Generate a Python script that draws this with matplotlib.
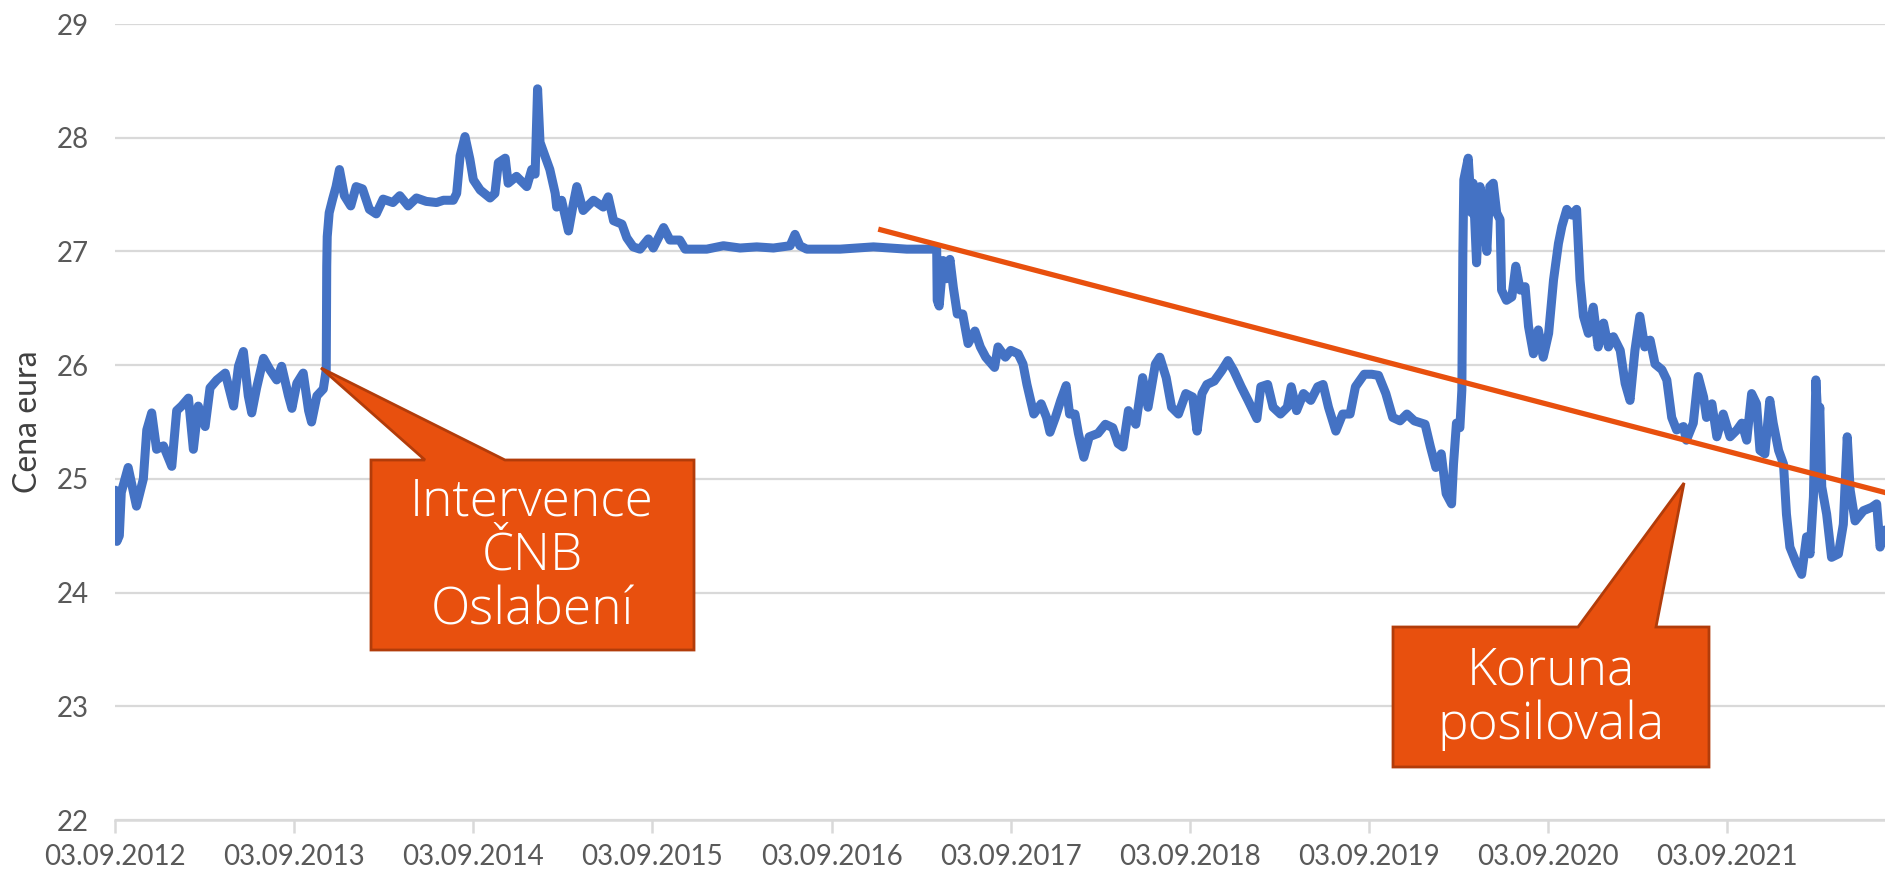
import pandas as pd
import matplotlib
matplotlib.use("Agg")
import matplotlib.pyplot as plt
from matplotlib.patches import Polygon

# kurz EUR/CZK, x = dny od 03.09.2012
start = pd.Timestamp("2012-09-03")

days_a = [0, 3, 8, 12, 26, 43, 57, 64, 74, 84, 98, 115, 125, 135, 149, 159, 169, 183, 193, 207,
          224, 241, 251, 261, 271, 278, 288, 302, 315, 329, 339, 353, 360, 370, 383, 394, 400,
          411, 424, 430]
rate_a = [24.90, 24.45, 24.50, 24.88, 25.10, 24.76, 25.00, 25.43, 25.58, 25.26, 25.29, 25.11,
          25.60, 25.64, 25.71, 25.26, 25.64, 25.46, 25.80, 25.87, 25.93, 25.64, 25.99, 26.12,
          25.73, 25.58, 25.80, 26.06, 25.96, 25.87, 25.99, 25.73, 25.62, 25.84, 25.93, 25.60,
          25.50, 25.73, 25.79, 25.96]

days_b = [431, 432, 436, 443, 450, 457, 467, 480, 491, 504, 518, 532, 546, 566, 580, 597, 614,
          634, 655, 669, 689, 696, 703, 713, 723, 730, 744, 764, 774, 781, 795, 801, 818, 839,
          849, 856, 861, 866, 876, 886, 897, 900, 910, 924, 934, 941, 954, 975, 995, 1005, 1016,
          1033, 1043, 1056, 1070, 1087, 1097, 1118, 1131, 1151, 1162, 1206, 1240, 1274, 1308,
          1342, 1376, 1386, 1396, 1410, 1478, 1546, 1614, 1675]
rate_b = [26.87, 27.13, 27.34, 27.46, 27.57, 27.72, 27.49, 27.40, 27.57, 27.55, 27.37, 27.33,
          27.46, 27.43, 27.49, 27.40, 27.47, 27.44, 27.43, 27.45, 27.45, 27.51, 27.84, 28.01,
          27.81, 27.63, 27.54, 27.47, 27.51, 27.78, 27.82, 27.60, 27.66, 27.57, 27.72, 27.68,
          28.43, 27.96, 27.84, 27.72, 27.51, 27.39, 27.45, 27.18, 27.42, 27.57, 27.36, 27.45,
          27.39, 27.48, 27.27, 27.24, 27.12, 27.04, 27.02, 27.11, 27.03, 27.21, 27.10, 27.10,
          27.02, 27.02, 27.05, 27.03, 27.04, 27.03, 27.05, 27.15, 27.05, 27.02, 27.02, 27.04,
          27.02, 27.02]

days_c = [1676, 1680, 1688, 1695, 1702, 1709, 1717, 1728, 1739, 1753, 1764, 1775, 1793, 1800,
          1815, 1826, 1841, 1851, 1859, 1873, 1888, 1899, 1906, 1917, 1928, 1939, 1946, 1957,
          1964, 1975, 1986, 2004, 2019, 2034, 2045, 2055, 2066, 2081, 2095, 2106, 2121, 2130,
          2143, 2154, 2168, 2183, 2197, 2206, 2216, 2226, 2241, 2256, 2269, 2281, 2296, 2310,
          2328, 2336, 2350, 2361, 2376, 2390, 2398, 2409, 2423, 2438, 2452, 2463, 2474, 2489,
          2503, 2518, 2529, 2547, 2562, 2576, 2591, 2605, 2620, 2634, 2649, 2671, 2682, 2693,
          2704, 2714, 2725]
rate_c = [26.57, 26.52, 26.92, 26.76, 26.93, 26.68, 26.45, 26.45, 26.19, 26.30, 26.16, 26.07,
          25.98, 26.16, 26.07, 26.13, 26.10, 26.01, 25.83, 25.57, 25.66, 25.54, 25.41, 25.54,
          25.69, 25.82, 25.57, 25.57, 25.40, 25.19, 25.37, 25.40, 25.48, 25.45, 25.31, 25.28,
          25.60, 25.48, 25.89, 25.63, 26.01, 26.07, 25.89, 25.63, 25.57, 25.75, 25.72, 25.42,
          25.75, 25.83, 25.86, 25.95, 26.04, 25.95, 25.81, 25.69, 25.53, 25.81, 25.83, 25.63,
          25.57, 25.63, 25.81, 25.60, 25.75, 25.69, 25.81, 25.83, 25.63, 25.42, 25.57, 25.57,
          25.81, 25.92, 25.92, 25.91, 25.75, 25.54, 25.51, 25.57, 25.51, 25.48, 25.28, 25.10,
          25.22, 24.87, 24.78]

days_d = [2729, 2735, 2742, 2746, 2748, 2750, 2759, 2766, 2769, 2776, 2783, 2790, 2797, 2803,
          2810, 2817, 2824, 2827, 2837, 2848, 2856, 2865, 2875, 2882, 2892, 2902, 2912, 2923,
          2933, 2943, 2950, 2960, 2970, 2980, 2987, 2994, 3004, 3014, 3024, 3035, 3045, 3055,
          3069, 3079, 3089, 3099, 3109, 3119, 3130, 3140, 3154, 3164, 3174, 3184, 3198, 3204,
          3218, 3228, 3239, 3245, 3256, 3266, 3279, 3293, 3307, 3317, 3327, 3337, 3347, 3354,
          3364, 3374, 3381, 3392, 3402, 3408, 3415, 3429, 3439, 3449, 3456, 3463, 3468, 3473,
          3476, 3480, 3490, 3500, 3514, 3524, 3532, 3538, 3548, 3565, 3582, 3592, 3599, 3609]
rate_d = [25.13, 25.49, 25.45, 25.78, 26.96, 27.63, 27.82, 27.34, 27.60, 26.90, 27.57, 27.40,
          27.00, 27.57, 27.60, 27.34, 27.28, 26.66, 26.57, 26.60, 26.87, 26.66, 26.69, 26.34,
          26.10, 26.31, 26.07, 26.28, 26.75, 27.07, 27.22, 27.37, 27.32, 27.37, 26.75, 26.43,
          26.28, 26.51, 26.16, 26.37, 26.16, 26.25, 26.13, 25.84, 25.69, 26.13, 26.43, 26.16,
          26.22, 26.01, 25.96, 25.87, 25.54, 25.43, 25.46, 25.34, 25.49, 25.90, 25.72, 25.54,
          25.66, 25.37, 25.57, 25.37, 25.43, 25.49, 25.34, 25.75, 25.66, 25.25, 25.22, 25.69,
          25.49, 25.25, 25.13, 24.69, 24.40, 24.25, 24.16, 24.49, 24.34, 24.84, 25.87, 25.45,
          25.63, 24.93, 24.69, 24.31, 24.34, 24.60, 25.37, 24.90, 24.63, 24.72, 24.75, 24.78,
          24.40, 24.55]

# trend (oranzova primka)
trend_days = [1561, 3609]
trend_rate = [27.19, 24.88]

tick_labels = ["03.09.2012", "03.09.2013", "03.09.2014", "03.09.2015", "03.09.2016",
               "03.09.2017", "03.09.2018", "03.09.2019", "03.09.2020", "03.09.2021"]
y_ticks = [22, 23, 24, 25, 26, 27, 28, 29]

days = days_a + days_b + days_c + days_d
rates = rate_a + rate_b + rate_c + rate_d
tick_pos = [(pd.to_datetime(t, format="%d.%m.%Y") - start).days for t in tick_labels]

W, H = 1885, 872
fig = plt.figure(figsize=(W / 100, H / 100), dpi=100)
ax = fig.add_axes([115.4 / W, (H - 820) / H, (W - 115.4) / W, (820 - 24) / H])

orange = "#E8500E"
edge = "#B23C0A"
grey = "#595959"

ax.plot(days, rates, color="#4472C4", lw=6.5, solid_joinstyle="round", solid_capstyle="round",
        zorder=3)
ax.plot(trend_days, trend_rate, color=orange, lw=3.8, zorder=4)

ax.set_xlim(0, 3609)
ax.set_ylim(22, 29)
ax.set_yticks(y_ticks)
ax.set_xticks(tick_pos)
ax.set_xticklabels(tick_labels)
ax.grid(axis="y", color="#D9D9D9", lw=1.6)
ax.set_axisbelow(True)
for s in ["top", "right", "left"]:
    ax.spines[s].set_visible(False)
ax.spines["bottom"].set_color("#D9D9D9")
ax.spines["bottom"].set_linewidth(1.8)
ax.tick_params(axis="y", length=0, pad=19, labelsize=20, labelcolor=grey)
ax.tick_params(axis="x", length=9, width=1.8, color="#D9D9D9", pad=8, labelsize=20,
               labelcolor=grey)
for lab in ax.get_xticklabels() + ax.get_yticklabels():
    lab.set_family("Lato")
ax.set_ylabel("Cena eura", color="#404040", labelpad=10)
ax.yaxis.label.set_family("Lato")
ax.yaxis.label.set_fontsize(23)


def px(x, y):
    return (x / W, 1 - y / H)


# bubliny
call1 = [(371, 460), (425, 460), (321, 368), (505, 460), (694, 460), (694, 650), (371, 650)]
call2 = [(1393, 627), (1578, 627), (1684, 483), (1656, 627), (1709, 627), (1709, 767), (1393, 767)]
for pts in [call1, call2]:
    fig.add_artist(Polygon([px(x, y) for x, y in pts], closed=True, transform=fig.transFigure,
                           facecolor=orange, edgecolor=edge, lw=2, zorder=10))

fig.text(*px(532, 556), "Intervence\nČNB\nOslabení", ha="center", va="center", color="white",
         fontsize=37, family="Open Sans", weight="light", linespacing=1.08, zorder=11)
fig.text(*px(1551, 698), "Koruna\nposilovala", ha="center", va="center", color="white",
         fontsize=37, family="Open Sans", weight="light", linespacing=1.08, zorder=11)

fig.savefig("out.png", dpi=100)
